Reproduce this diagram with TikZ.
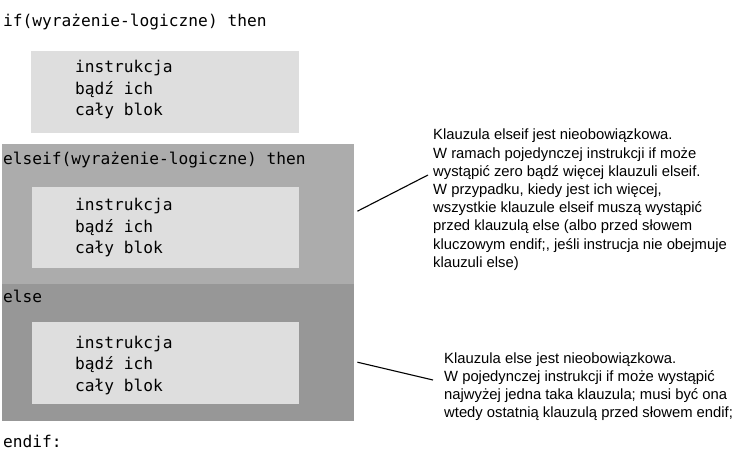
\documentclass[tikz,border=0pt]{standalone}
\usepackage{fontspec}
\newfontfamily\kodfont{DejaVu Sans Mono}
\newfontfamily\opisfont{Liberation Sans}
\definecolor{jasny}{RGB}{222,222,222}
\definecolor{sredni}{RGB}{172,172,172}
\definecolor{ciemny}{RGB}{151,151,151}

\begin{document}
\begin{tikzpicture}[x=1pt, y=-1pt,
		kod/.style={font=\kodfont\fontsize{16.2}{21.5}\selectfont, anchor=base west, inner sep=0pt, align=left},
		opis/.style={font=\opisfont\fontsize{14.8}{18.2}\selectfont, anchor=base west, inner sep=0pt, align=left},
		pole/.style={anchor=north west, inner sep=0pt, fill=#1}]
			\useasboundingbox (0,0) rectangle (733,462);
			
			\node[pole=sredni, minimum width=352pt, minimum height=140pt] (elseif) at (2,144) {};
			\node[pole=ciemny, minimum width=352pt, minimum height=137pt] (else) at (2,284) {};
			
			\node[pole=jasny, minimum width=268pt, minimum height=82pt] (blok1) at (31,51) {};
			\node[pole=jasny, minimum width=267pt, minimum height=81pt] (blok2) at (32,187) {};
			\node[pole=jasny, minimum width=267pt, minimum height=82pt] (blok3) at (32,322) {};
			
			\node[kod] (if) at (3,27) {if(wyrażenie-logiczne) then};
			\node[kod] (elseiftxt) at (3,165) {elseif(wyrażenie-logiczne) then};
			\node[kod] (elsetxt) at (3,302) {else};
			\node[kod] (endif) at (3,447) {endif:};
			
			% base = ostatni wiersz
			\node[kod] (instr1) at (75,116) {instrukcja\\bądź ich\\cały blok};
			\node[kod] (instr2) at (75,254) {instrukcja\\bądź ich\\cały blok};
			\node[kod] (instr3) at (75,391) {instrukcja\\bądź ich\\cały blok};
			
			\node[opis] (opis1) at (433,267.4) {Klauzula elseif jest nieobowiązkowa.\\
				W ramach pojedynczej instrukcji if może\\
				wystąpić zero bądź więcej klauzuli elseif.\\
				W przypadku, kiedy jest ich więcej,\\
				wszystkie klauzule elseif muszą wystąpić\\
				przed klauzulą else (albo przed słowem\\
				kluczowym endif;, jeśli instrucja nie obejmuje\\
				klauzuli else)};
			\node[opis] (opis2) at (444,417.6) {Klauzula else jest nieobowiązkowa.\\
				W pojedynczej instrukcji if może wystąpić\\
				najwyżej jedna taka klauzula; musi być ona\\
				wtedy ostatnią klauzulą przed słowem endif;};
			
			\coordinate (k1) at (428,175);
			\coordinate (k2) at (433,380);
			
			\draw [line width=1.1pt] ([shift={(3,-3)}]elseif.east) -- (k1);
			\draw [line width=1.1pt] ([shift={(3,9.5)}]else.east) -- (k2);
		\end{tikzpicture}
\end{document}
